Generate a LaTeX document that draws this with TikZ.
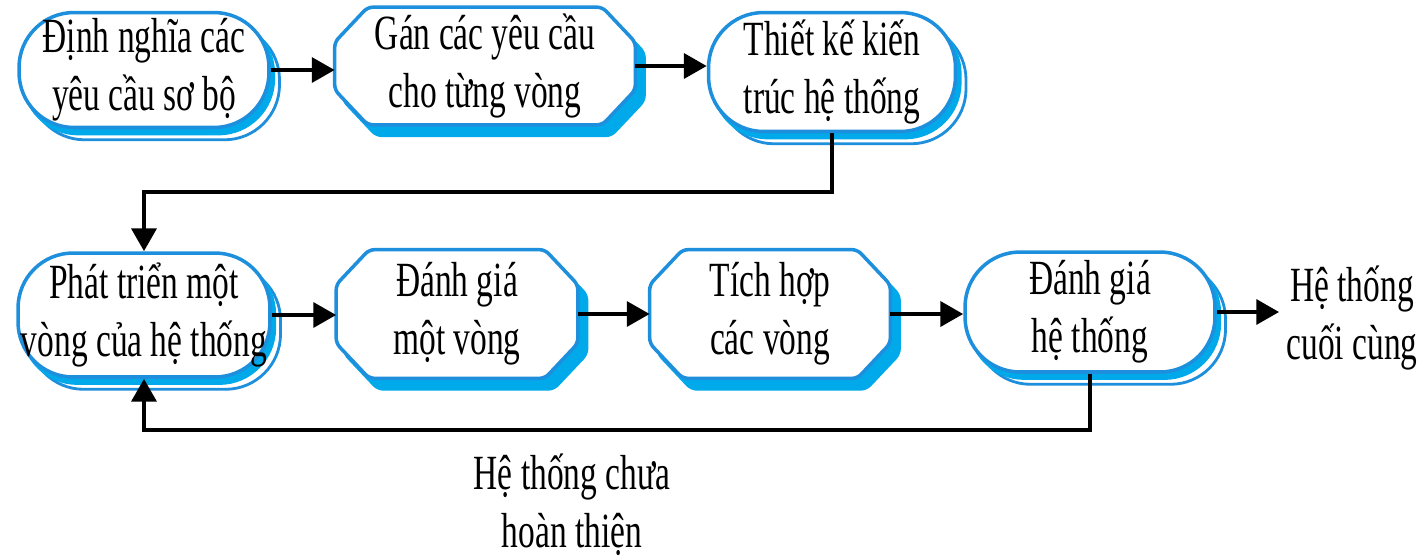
\documentclass[tikz,border=0pt]{standalone}
\usepackage{fontspec}
\setmainfont{Liberation Serif}[FakeStretch=0.68]
\usetikzlibrary{shadows,arrows.meta,backgrounds}
\definecolor{bline}{HTML}{1E8FDC}
\definecolor{bfill}{HTML}{00AAEA}
\newcommand{\chpath}[1]{([xshift=0.66cm]#1.north west) -- ([xshift=-0.66cm]#1.north east) -- ([yshift=-0.7cm]#1.north east) -- ([yshift=0.7cm]#1.south east) -- ([xshift=-0.66cm]#1.south east) -- ([xshift=0.66cm]#1.south west) -- ([yshift=0.7cm]#1.south west) -- ([yshift=-0.7cm]#1.north west) -- cycle}
\begin{document}
\begin{tikzpicture}[x=0.02cm,y=-0.02cm,
  txt/.style={font=\fontsize{28}{33}\selectfont, align=center, inner sep=0pt},
  stad/.style={txt, draw=bline, line width=2pt, fill=white, rounded corners=1.1cm,
    general shadow={shadow xshift=6pt, shadow yshift=-7pt, draw=bline, fill=white, line width=1.6pt},
    general shadow={shadow xshift=2.5pt, shadow yshift=-3.5pt, draw=bfill, fill=bfill}},
  chamf/.style={txt, rectangle},
  chline/.style={draw=bline, line width=2pt, fill=white, rounded corners=3pt},
  chshad/.style={fill=bfill, draw=bfill, line width=2pt, rounded corners=3pt, transform canvas={shift={(5pt,-6pt)}}},
  arr/.style={-{Triangle[length=13pt,width=14pt]}, line width=2.6pt}]
\useasboundingbox (0,0) rectangle (1426,559);

\node[stad, minimum width=5cm, minimum height=2.3cm] (n1) at (144,70) {Định nghĩa các\\yêu cầu sơ bộ};
\node[chamf, minimum width=6cm, minimum height=2.34cm] (n2) at (485,66) {Gán các yêu cầu\\cho từng vòng};
\node[stad, minimum width=4.94cm, minimum height=2.38cm] (n3) at (832,72) {Thiết kế kiến\\trúc hệ thống};

\node[stad, minimum width=5.04cm, minimum height=2.48cm] (n4) at (144,315) {Phát triển một\\vòng của hệ thống};
\node[chamf, minimum width=4.82cm, minimum height=2.56cm] (n5) at (457,314) {Đánh giá\\một vòng};
\node[chamf, minimum width=4.8cm, minimum height=2.56cm] (n6) at (770,314) {Tích hợp\\các vòng};
\node[stad, minimum width=5cm, minimum height=2.4cm] (n7) at (1090,312) {Đánh giá\\hệ thống};
\node[txt] (end) at (1352,318) {Hệ thống\\cuối cùng};
\node[txt] (lbl) at (572,505) {Hệ thống chưa\\hoàn thiện};

\begin{pgfonlayer}{background}
  \foreach \n in {n2,n5,n6} {
    \path[chshad] \chpath{\n};
    \path[chline] \chpath{\n};
  }
\end{pgfonlayer}

\draw[arr] (n1.east) -- (n1.east -| n2.west);
\draw[arr] (n2.east) -- (n2.east -| n3.west);
\coordinate (c1) at (n3.south |- 0,192);
\draw[arr] (n3.south) -- (c1) -| (n4.north);

\draw[arr] (n4.east) -- (n4.east -| n5.west);
\draw[arr] (n5.east) -- (n5.east -| n6.west);
\draw[arr] (n6.east) -- (n6.east -| n7.west);
\draw[arr] (n7.east) -- ([xshift=-4pt]n7.east -| end.west);

\coordinate (c2) at (n7.south |- 0,430);
\draw[arr] (n7.south) -- (c2) -| (n4.south);
\end{tikzpicture}
\end{document}
